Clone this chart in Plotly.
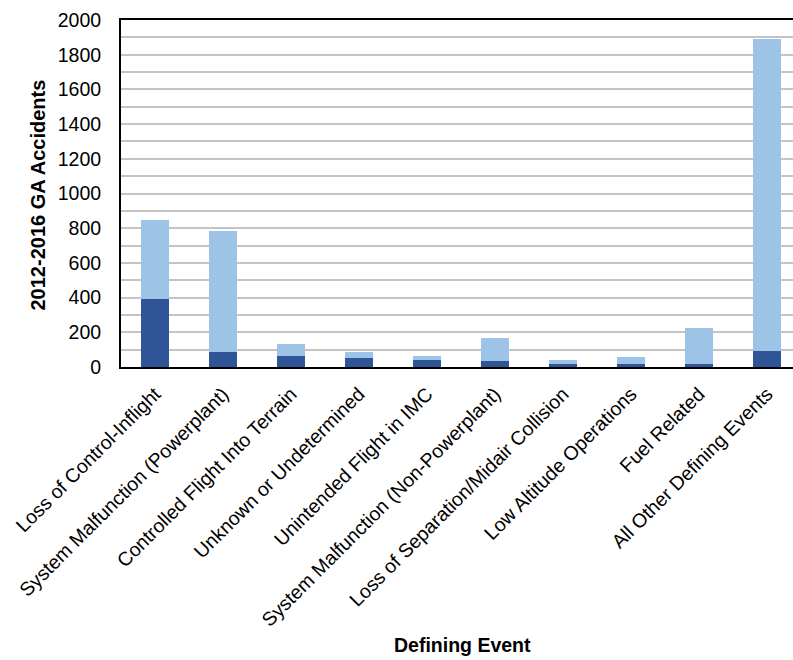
import plotly.graph_objects as go

categories = [
    "Loss of Control-Inflight",
    "System Malfunction (Powerplant)",
    "Controlled Flight Into Terrain",
    "Unknown or Undetermined",
    "Unintended Flight in IMC",
    "System Malfunction (Non-Powerplant)",
    "Loss of Separation/Midair Collision",
    "Low Altitude Operations",
    "Fuel Related",
    "All Other Defining Events",
]
fatal = [391, 84, 62, 51, 42, 32, 20, 20, 20, 95]
nonfatal = [459, 702, 68, 33, 23, 138, 23, 35, 202, 1797]

y_ticks = [0, 200, 400, 600, 800, 1000, 1200, 1400, 1600, 1800, 2000]

FONT = "Liberation Sans, Arial, sans-serif"

fig = go.Figure()
fig.add_trace(go.Bar(x=categories, y=fatal, marker=dict(color="#2F5597", line=dict(width=0)),
                     width=0.41, name="Fatal"))
fig.add_trace(go.Bar(x=categories, y=nonfatal, marker=dict(color="#9DC3E6", line=dict(width=0)),
                     width=0.41, name="Non-fatal"))

fig.update_layout(
    barmode="stack",
    width=793, height=660,
    margin=dict(l=121, r=0, t=20, b=293, autoexpand=False),
    paper_bgcolor="white", plot_bgcolor="white",
    showlegend=False,
    font=dict(family=FONT, color="black"),
)
fig.update_xaxes(
    range=[-0.5, 9.382],
    tickangle=-45,
    tickfont=dict(size=19.5, family=FONT, color="black"),
    showline=True, linecolor="black", linewidth=2, mirror=True,
    showgrid=False, ticks="outside", ticklen=6, tickcolor="rgba(0,0,0,0)",
    automargin=False,
)
fig.update_yaxes(
    range=[0, 2000],
    tickvals=y_ticks,
    tickfont=dict(size=19.5, family=FONT, color="black"),
    showline=True, linecolor="black", linewidth=2,
    showgrid=True, gridcolor="#C4C4C4", gridwidth=1.5,
    minor=dict(dtick=100, showgrid=True, gridcolor="#C4C4C4", gridwidth=1.5),
    ticks="outside", ticklen=14, tickcolor="rgba(0,0,0,0)",
    zeroline=False, automargin=False,
)
fig.add_annotation(text="<b>2012-2016 GA Accidents</b>", textangle=-90,
                   xref="paper", yref="paper", x=(37 - 121) / 672, y=(366.5 - 195) / 347,
                   xanchor="center", yanchor="middle", showarrow=False,
                   font=dict(size=20, family=FONT, color="black"))
fig.add_annotation(text="<b>Defining Event</b>",
                   xref="paper", yref="paper", x=(462 - 121) / 672, y=-(645 - 367) / 347,
                   xanchor="center", yanchor="middle", showarrow=False,
                   font=dict(size=19.5, family=FONT, color="black"))

fig.write_html("out.html")
